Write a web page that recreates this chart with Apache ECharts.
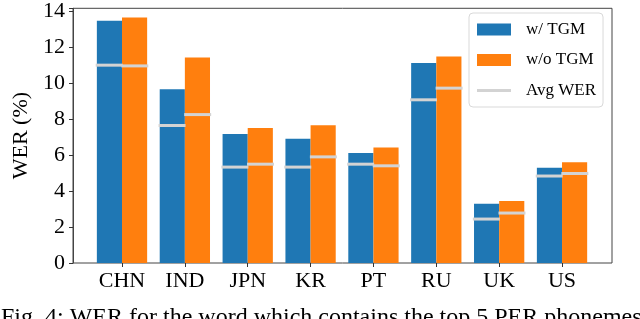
<!DOCTYPE html>
<html>
<head>
<meta charset="utf-8">
<script src="https://cdn.jsdelivr.net/npm/echarts@6/dist/echarts.min.js"></script>
<style>html,body{margin:0;padding:0;background:#fff}#c{width:640px;height:319px}</style>
</head>
<body>
<div id="c"></div>
<script>
const categories = ['CHN','IND','JPN','KR','PT','RU','UK','US'];
const withTGM    = [13.29, 9.53, 7.07, 6.81, 6.03, 10.97, 3.25, 5.22];
const withoutTGM = [13.46, 11.27, 7.41, 7.56, 6.33, 11.32, 3.40, 5.53];
const avgWith    = [10.85, 7.54, 5.26, 5.26, 5.42, 8.95, 2.41, 4.77];
const avgWithout = [10.81, 8.14, 5.42, 5.82, 5.33, 9.59, 2.74, 4.91];
const yTicks = [0, 2, 4, 6, 8, 10, 12, 14];

const FONT = 'Liberation Serif';
const chart = echarts.init(document.getElementById('c'), null, {renderer: 'canvas'});
const plotLeft = 73, plotTop = 5, plotW = 539, plotH = 258;
const band = 62.86;
const barLeft = 122 - band / 2;

chart.setOption({
  animation: false,
  backgroundColor: '#fff',
  grid: [
    {left: plotLeft, top: plotTop, width: plotW, height: plotH, show: true,
     borderColor: '#444', borderWidth: 1, backgroundColor: 'transparent'},
    {left: barLeft, top: plotTop, width: band * categories.length, height: plotH}
  ],
  xAxis: [
    {type: 'value', gridIndex: 0, show: false, min: 0, max: 1},
    {type: 'category', gridIndex: 1, data: categories,
     axisLine: {show: false},
     axisTick: {show: true, alignWithLabel: true, length: 4, lineStyle: {color: '#333'}},
     axisLabel: {fontFamily: FONT, fontSize: 22, color: '#000', margin: 7}}
  ],
  yAxis: [
    {type: 'value', gridIndex: 0, min: 0, max: 14.15, interval: 2,
     axisLine: {show: true, lineStyle: {color: '#444'}},
     axisTick: {show: true, length: 4, lineStyle: {color: '#333'}},
     splitLine: {show: false},
     axisLabel: {fontFamily: FONT, fontSize: 22, color: '#000', margin: 8,
       customValues: yTicks, formatter: v => String(v)},
     name: 'WER (%)', nameLocation: 'middle', nameRotate: 90, nameGap: 37,
     nameTextStyle: {fontFamily: FONT, fontSize: 22, color: '#000'}},
    {type: 'value', gridIndex: 1, min: 0, max: 14.15, show: false}
  ],
  legend: {
    orient: 'vertical', left: 469, top: 13,
    padding: [8, 7, 8, 8],
    itemWidth: 34, itemHeight: 12, itemGap: 13.5,
    borderColor: '#d9d9d9', borderWidth: 1, borderRadius: 4,
    backgroundColor: 'rgba(255,255,255,0.8)',
    textStyle: {fontFamily: FONT, fontSize: 17, color: '#000', padding: [0, 0, 0, 10]},
    data: [
      {name: 'w/ TGM', icon: 'rect'},
      {name: 'w/o TGM', icon: 'rect'},
      {name: 'Avg WER', icon: 'path://M0,0L34,0L34,3L0,3Z'}
    ]
  },
  series: [
    {name: 'w/ TGM', type: 'bar', xAxisIndex: 1, yAxisIndex: 1, data: withTGM,
     barWidth: '40%', barGap: '0%', itemStyle: {color: '#1f77b4'}, z: 2},
    {name: 'w/o TGM', type: 'bar', xAxisIndex: 1, yAxisIndex: 1, data: withoutTGM,
     barWidth: '40%', barGap: '0%', itemStyle: {color: '#ff7f0e'}, z: 2},
    {name: 'Avg WER', type: 'scatter', xAxisIndex: 1, yAxisIndex: 1, data: avgWith,
     symbol: 'rect', symbolSize: [27, 3], symbolOffset: [-12.8, 0], symbolKeepAspect: true,
     itemStyle: {color: '#d3d3d3', opacity: 1}, z: 5},
    {name: 'Avg WER', type: 'scatter', xAxisIndex: 1, yAxisIndex: 1, data: avgWithout,
     symbol: 'rect', symbolSize: [27, 3], symbolOffset: [12.8, 0], symbolKeepAspect: true,
     itemStyle: {color: '#d3d3d3', opacity: 1}, z: 5}
  ],
  graphic: [
    {type: 'text', left: 1, top: 306,
     style: {text: 'Fig. 4: WER for the word which contains the top 5 PER phonemes',
       font: '24px "Liberation Serif"', fill: '#000'}}
  ]
});
</script>
</body>
</html>
